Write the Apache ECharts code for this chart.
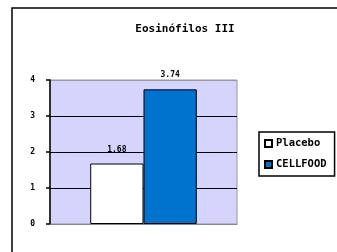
<!DOCTYPE html>
<html>
<head>
<meta charset="utf-8">
<script src="https://cdn.jsdelivr.net/npm/echarts@6/dist/echarts.min.js"></script>
<style>
  html, body { margin: 0; padding: 0; background: #fff; }
  #main { width: 337px; height: 252px; }
</style>
</head>
<body>
<div id="main"></div>
<script>
const title = 'Eosinófilos III';
const categories = [''];
const seriesNames = ['Placebo', 'CELLFOOD'];
const placebo = [1.68];
const cellfood = [3.74];
const yTicks = [0, 1, 2, 3, 4];

const font = 'DejaVu Sans Mono';
const myChart = echarts.init(document.getElementById('main'));

const labelStyle = {
  show: true,
  position: 'top',
  distance: 10,
  fontFamily: font,
  fontSize: 8,
  fontWeight: 'bold',
  color: '#000',
  formatter: (p) => p.value.toFixed(2)
};

const option = {
  animation: false,
  title: {
    text: title,
    left: 180,
    textAlign: 'center',
    top: 19,
    textStyle: { fontFamily: font, fontSize: 11, fontWeight: 'bold', color: '#000' }
  },
  legend: {
    orient: 'vertical',
    left: 259,
    top: 132,
    data: seriesNames,
    borderColor: '#000',
    borderWidth: 1.5,
    padding: [6, 8, 6, 5],
    itemWidth: 7,
    itemHeight: 7,
    itemGap: 10,
    icon: 'rect',
    textStyle: { fontFamily: font, fontSize: 10.5, fontWeight: 'bold', color: '#000', padding: [0, 0, 0, -1] }
  },
  grid: {
    left: 50,
    right: 100,
    top: 80,
    bottom: 28,
    show: true,
    backgroundColor: '#d4d4fc',
    borderColor: '#999',
    borderWidth: 1
  },
  xAxis: {
    type: 'category',
    data: categories,
    axisLine: { lineStyle: { color: '#888' } },
    axisTick: { show: false },
    axisLabel: { show: false }
  },
  yAxis: {
    type: 'value',
    min: yTicks[0],
    max: yTicks[yTicks.length - 1],
    interval: 1,
    axisLine: { show: true, lineStyle: { color: '#000', width: 1.5 } },
    axisTick: { show: true, length: 4, lineStyle: { color: '#000', width: 1.5 } },
    axisLabel: { fontFamily: font, fontSize: 8, fontWeight: 'bold', color: '#000', margin: 15 },
    splitLine: { lineStyle: { color: ['#888', '#000', '#000', '#000', '#999'], width: 1.2 } }
  },
  series: [
    {
      name: seriesNames[0],
      type: 'bar',
      data: placebo,
      barGap: '0%',
      barCategoryGap: '43%',
      itemStyle: { color: '#fff', borderColor: '#000', borderWidth: 1 },
      label: labelStyle
    },
    {
      name: seriesNames[1],
      type: 'bar',
      data: cellfood,
      itemStyle: { color: '#0073cf', borderColor: '#000', borderWidth: 1 },
      label: labelStyle
    }
  ],
  graphic: [
    {
      type: 'rect',
      shape: { x: 12, y: 8, width: 400, height: 300 },
      style: { fill: 'none', stroke: '#000', lineWidth: 1.5 },
      silent: true
    }
  ]
};

myChart.setOption(option);
</script>
</body>
</html>
